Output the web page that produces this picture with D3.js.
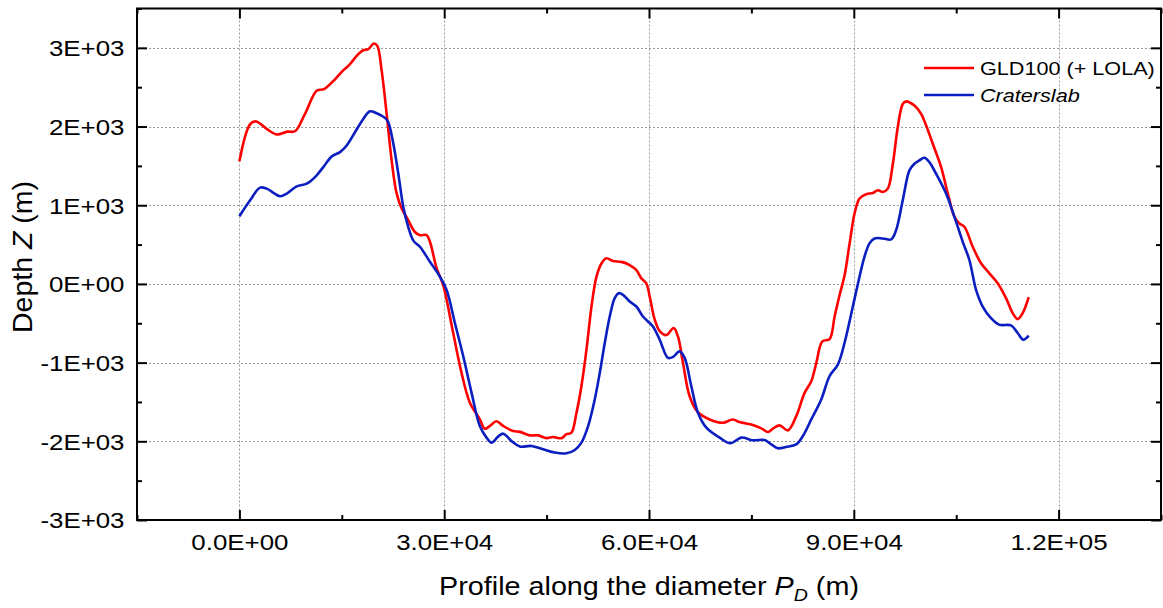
<!DOCTYPE html>
<html>
<head>
<meta charset="utf-8">
<script src="https://cdn.jsdelivr.net/npm/d3@7"></script>
<style>
  html, body { margin: 0; padding: 0; background: #ffffff; }
  svg { display: block; font-family: "Liberation Sans", Arial, sans-serif; }
</style>
</head>
<body>
<svg id="chart" width="1163" height="608"></svg>
<script>
// ---- data (distance along diameter in m, depth in m) ----
const gld100 = [
  [0,1560],[1580,2030],[2440,2065],[4000,1970],[5470,1900],[7020,1935],[8150,1940],[9610,2160],
  [11320,2455],[12400,2475],[14000,2600],[15220,2715],[15950,2770],[17420,2920],[18150,2970],
  [18880,2985],[19710,3055],[20200,3025],[20840,2710],[21570,2160],[22300,1570],[23030,1150],
  [23770,960],[24730,810],[25710,660],[26440,620],[27420,620],[27910,535],[28890,200],[29850,-15],
  [31320,-625],[32540,-1130],[33760,-1510],[35220,-1720],[35950,-1840],[36690,-1805],[37660,-1745],
  [38640,-1805],[40100,-1870],[41080,-1880],[42540,-1925],[43760,-1925],[44980,-1960],[45960,-1945],
  [47180,-1960],[47910,-1910],[48640,-1890],[49370,-1640],[50100,-1300],[50840,-835],[51570,-290],
  [52300,90],[53030,260],[53760,325],[54730,290],[55960,280],[57170,240],[58150,175],[58880,70],
  [59620,5],[60100,-160],[60830,-450],[61570,-600],[62540,-650],[63610,-560],[64240,-667],
  [64970,-1000],[65950,-1427],[67170,-1630],[68880,-1722],[70830,-1764],[72290,-1722],[73270,-1756],
  [75220,-1793],[76450,-1835],[77420,-1882],[78150,-1839],[79130,-1797],[80350,-1861],[81570,-1680],
  [82790,-1384],[83770,-1237],[84510,-1004],[85390,-730],[86460,-700],[87190,-414],[87920,-140],
  [88650,110],[89380,510],[90110,895],[90840,1085],[91820,1139],[92790,1156],[93530,1190],
  [94240,1168],[94980,1211],[95720,1528],[96440,1991],[97170,2287],[97670,2320],[98880,2266],
  [99860,2161],[100600,2013],[101570,1781],[102790,1485],[103770,1148],[104740,852],[105470,768],
  [106200,726],[107420,472],[108640,262],[109860,135],[111080,9],[112300,-181],[113270,-371],
  [114000,-447],[114740,-371],[115620,-168]
];
const craterslab = [
  [0,861],[1570,1063],[3030,1224],[4000,1211],[5960,1114],[6940,1148],[8400,1240],[9860,1275],
  [11080,1358],[12290,1485],[13520,1620],[14740,1675],[15720,1759],[16930,1928],[18150,2097],
  [19130,2194],[20110,2168],[21320,2110],[21810,2055],[22550,1781],[23280,1401],[24010,978],
  [24730,725],[25480,550],[26440,472],[27910,282],[29370,92],[30350,-76],[31570,-497],[32790,-920],
  [34010,-1384],[35220,-1806],[36200,-1953],[36930,-2017],[37900,-1941],[38640,-1903],[39860,-1996],
  [41080,-2067],[42790,-2059],[44490,-2101],[46200,-2143],[47910,-2152],[49130,-2110],[50100,-2017],
  [51080,-1806],[52050,-1468],[52790,-1130],[53520,-751],[54250,-414],[54980,-181],[55560,-118],
  [56200,-139],[57170,-224],[58150,-287],[59120,-414],[59850,-477],[60580,-540],[61570,-709],
  [62780,-940],[63520,-928],[64490,-857],[65220,-940],[66200,-1300],[67170,-1637],[68400,-1827],
  [70340,-1953],[71900,-2025],[73520,-1953],[75220,-1987],[76930,-1983],[77910,-2038],[78880,-2089],
  [80100,-2072],[81570,-2038],[82540,-1933],[83770,-1722],[85230,-1468],[86440,-1173],[87660,-1025],
  [88640,-751],[89860,-287],[90840,92],[91570,346],[92300,515],[93030,578],[94240,578],[95470,566],
  [96200,684],[97170,1063],[98150,1443],[98880,1528],[99610,1570],[100340,1604],[101070,1548],
  [102050,1401],[103520,1148],[104740,852],[105960,535],[106930,304],[107910,-76],[108880,-287],
  [110100,-434],[111320,-519],[113030,-527],[114000,-624],[114830,-709],[115620,-658]
];
const seriesNames = ["GLD100 (+ LOLA)", "Craterslab"];
const xTickValues = [0, 30000, 60000, 90000, 120000];
const xTickLabels = ["0.0E+00", "3.0E+04", "6.0E+04", "9.0E+04", "1.2E+05"];
const xMinorValues = [-15000, 15000, 45000, 75000, 105000, 135000];
const yTickValues = [-3000, -2000, -1000, 0, 1000, 2000, 3000];
const yTickLabels = ["-3E+03", "-2E+03", "-1E+03", "0E+00", "1E+03", "2E+03", "3E+03"];
const yMinorValues = [-2500, -1500, -500, 500, 1500, 2500, 3500];

// ---- layout ----
const L = 137, R = 1161, T = 8.5, B = 520;
const SX = 1.15; // horizontal text stretch
const RED = "#ff0000", BLUE = "#0b1ec0";

const svg = d3.select("#chart");
const x = d3.scaleLinear().domain([-15000, 135000]).range([L, R]);
const y = d3.scaleLinear().domain([-3000, 3500]).range([B, T]);

// grid
const grid = svg.append("g").attr("stroke", "#9a9a9a").attr("stroke-width", 1).attr("stroke-dasharray", "2,2");
grid.selectAll("line.gx").data(xTickValues).join("line")
  .attr("x1", d => Math.round(x(d)) + 0.5).attr("x2", d => Math.round(x(d)) + 0.5)
  .attr("y1", T).attr("y2", B);
grid.selectAll("line.gy").data(yTickValues.filter(v => v > -3000)).join("line")
  .attr("y1", d => Math.round(y(d)) + 0.5).attr("y2", d => Math.round(y(d)) + 0.5)
  .attr("x1", L).attr("x2", R);

// axes (inward ticks on all sides)
function styleAxis(g) {
  g.select(".domain").remove();
  g.selectAll(".tick line").attr("stroke", "#000").attr("stroke-width", 2);
}
const fmtX = (d) => xTickLabels[xTickValues.indexOf(d)];
const fmtY = (d) => yTickLabels[yTickValues.indexOf(d)];

const gBottom = svg.append("g").attr("transform", `translate(0,${B})`)
  .call(d3.axisBottom(x).tickValues(xTickValues).tickFormat(fmtX).tickSize(-10).tickPadding(14));
styleAxis(gBottom);
gBottom.selectAll(".tick text").attr("font-size", 22.5).attr("fill", "#000")
  .attr("font-family", "Liberation Sans, Arial, sans-serif")
  .attr("transform", `scale(${SX},1)`);
svg.append("g").attr("transform", `translate(0,${B})`)
  .call(d3.axisBottom(x).tickValues(xMinorValues).tickFormat("").tickSize(-5)).call(styleAxis);

const gTop = svg.append("g").attr("transform", `translate(0,${T})`)
  .call(d3.axisTop(x).tickValues(xTickValues).tickFormat("").tickSize(-10));
styleAxis(gTop);
svg.append("g").attr("transform", `translate(0,${T})`)
  .call(d3.axisTop(x).tickValues(xMinorValues).tickFormat("").tickSize(-5)).call(styleAxis);

const gLeft = svg.append("g").attr("transform", `translate(${L},0)`)
  .call(d3.axisLeft(y).tickValues(yTickValues).tickFormat(fmtY).tickSize(-10).tickPadding(12.5));
styleAxis(gLeft);
gLeft.selectAll(".tick text").attr("font-size", 22.5).attr("fill", "#000")
  .attr("font-family", "Liberation Sans, Arial, sans-serif")
  .attr("x", -12.5 / SX).attr("dy", "0.35em")
  .attr("transform", `scale(${SX},1)`);
svg.append("g").attr("transform", `translate(${L},0)`)
  .call(d3.axisLeft(y).tickValues(yMinorValues).tickFormat("").tickSize(-5)).call(styleAxis);

svg.append("g").attr("transform", `translate(${R},0)`)
  .call(d3.axisRight(y).tickValues(yTickValues).tickFormat("").tickSize(-10)).call(styleAxis);
svg.append("g").attr("transform", `translate(${R},0)`)
  .call(d3.axisRight(y).tickValues(yMinorValues).tickFormat("").tickSize(-5)).call(styleAxis);

// frame
svg.append("rect").attr("x", L).attr("y", T).attr("width", R - L).attr("height", B - T)
  .attr("fill", "none").attr("stroke", "#000").attr("stroke-width", 2);

// lines
const line = d3.line().x(d => x(d[0])).y(d => y(d[1])).curve(d3.curveCatmullRom.alpha(0.5));
svg.append("path").datum(gld100).attr("d", line)
  .attr("fill", "none").attr("stroke", RED).attr("stroke-width", 2.6).attr("stroke-linejoin", "round");
svg.append("path").datum(craterslab).attr("d", line)
  .attr("fill", "none").attr("stroke", BLUE).attr("stroke-width", 2.6).attr("stroke-linejoin", "round");

// legend
const legend = svg.append("g");
const legendItems = [
  { name: seriesNames[0], color: RED, italic: false, yy: 68 },
  { name: seriesNames[1], color: BLUE, italic: true, yy: 95 }
];
legendItems.forEach(it => {
  legend.append("line").attr("x1", 924).attr("x2", 974).attr("y1", it.yy).attr("y2", it.yy)
    .attr("stroke", it.color).attr("stroke-width", 2.6);
  legend.append("text").attr("transform", `translate(980,${it.yy + 7}) scale(${SX},1)`)
    .attr("font-size", 18.8).attr("font-style", it.italic ? "italic" : "normal")
    .attr("fill", "#000").text(it.name);
});

// x title
const xt = svg.append("text").attr("transform", `translate(${(L + R) / 2},595) scale(${SX},1)`)
  .attr("text-anchor", "middle").attr("font-size", 25).attr("fill", "#000");
xt.append("tspan").text("Profile along the diameter ");
xt.append("tspan").attr("font-style", "italic").text("P");
xt.append("tspan").attr("font-style", "italic").attr("font-size", 17).attr("dy", 6).text("D");
xt.append("tspan").attr("dy", -6).text(" (m)");

// y title
const yt = svg.append("text").attr("transform", `translate(32,257) rotate(-90)`)
  .attr("text-anchor", "middle").attr("font-size", 28.5).attr("fill", "#000");
yt.append("tspan").text("Depth ");
yt.append("tspan").attr("font-style", "italic").text("Z");
yt.append("tspan").text(" (m)");
</script>
</body>
</html>
